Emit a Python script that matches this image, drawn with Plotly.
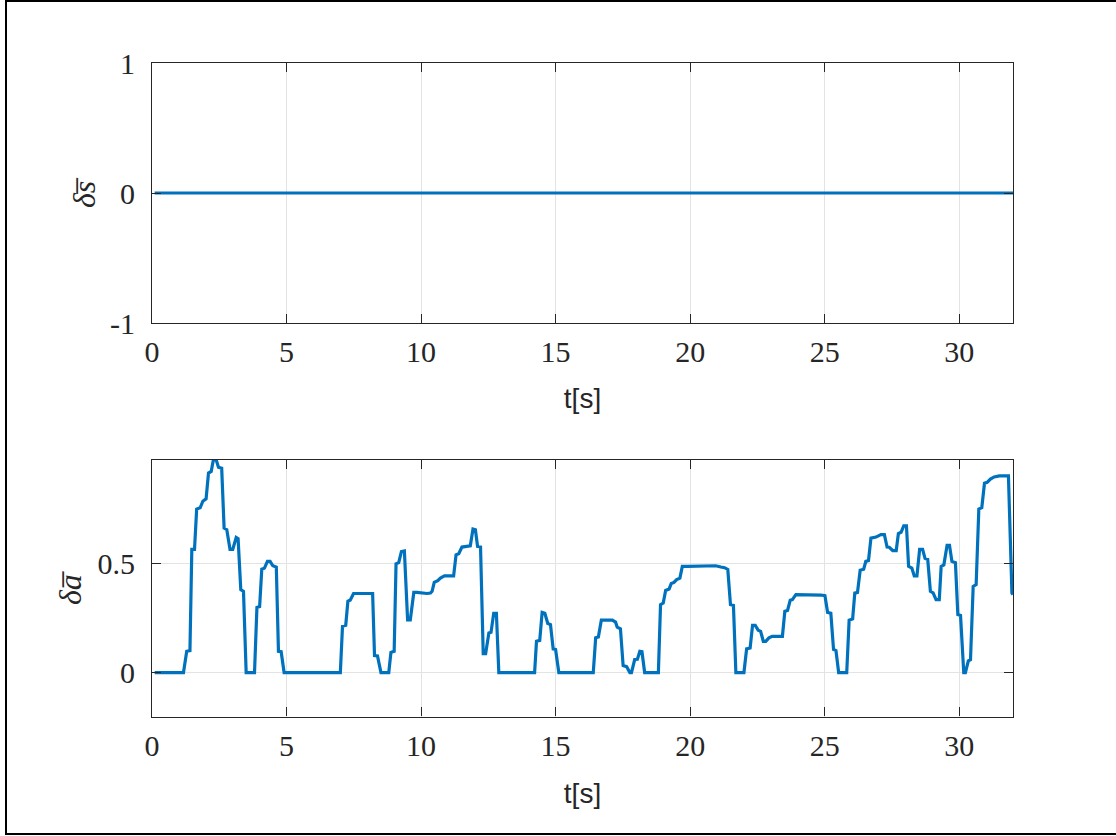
import plotly.graph_objects as go

# ---- data ----
t_top = [0.1, 32.0]
s_top = [0.0, 0.0]

t_bot = [0.1, 1.17, 1.29, 1.41, 1.48, 1.58, 1.66, 1.79, 1.89, 2.01, 2.10, 2.20, 2.28, 2.38, 2.47, 2.59,
         2.68, 2.78, 2.90, 3.00, 3.13, 3.20, 3.30, 3.40, 3.50, 3.81, 3.90, 4.00, 4.08, 4.18, 4.29, 4.39,
         4.49, 4.62, 4.70, 4.80, 4.91, 7.00, 7.08, 7.20, 7.28, 7.37, 7.49, 7.86, 7.99, 8.20, 8.27, 8.38,
         8.51, 8.80, 8.88, 9.00, 9.07, 9.17, 9.27, 9.38, 9.50, 9.60, 9.73, 9.85, 10.22, 10.35, 10.41, 10.49,
         10.62, 10.72, 10.87, 11.21, 11.30, 11.40, 11.52, 11.83, 11.93, 12.02, 12.10, 12.21, 12.31, 12.40,
         12.52, 12.60, 12.70, 12.80, 12.89, 14.22, 14.29, 14.41, 14.50, 14.60, 14.71, 14.81, 14.91, 15.00,
         15.12, 16.40, 16.49, 16.59, 16.70, 17.11, 17.23, 17.29, 17.41, 17.51, 17.64, 17.76, 17.82, 17.94,
         18.04, 18.13, 18.21, 18.31, 18.82, 18.90, 19.00, 19.09, 19.22, 19.30, 19.40, 19.50, 19.62, 19.71,
         19.90, 20.52, 20.95, 21.14, 21.28, 21.40, 21.50, 21.61, 21.70, 22.00, 22.10, 22.23, 22.32, 22.42,
         22.53, 22.62, 22.72, 22.81, 22.93, 23.05, 23.43, 23.52, 23.62, 23.72, 23.80, 23.93, 24.05, 24.86,
         25.01, 25.11, 25.23, 25.33, 25.42, 25.52, 25.82, 25.91, 26.04, 26.12, 26.22, 26.32, 26.45, 26.53,
         26.63, 26.72, 26.91, 27.09, 27.22, 27.32, 27.40, 27.53, 27.66, 27.74, 27.84, 27.94, 28.04, 28.12,
         28.24, 28.33, 28.43, 28.53, 28.64, 28.73, 28.83, 28.93, 29.03, 29.14, 29.26, 29.33, 29.43, 29.55,
         29.64, 29.73, 29.86, 29.95, 30.05, 30.17, 30.23, 30.34, 30.42, 30.52, 30.63, 30.73, 30.84, 30.94,
         31.04, 31.16, 31.30, 31.49, 31.83, 31.96, 32.0]
a_bot = [0, 0, 0.098, 0.101, 0.567, 0.567, 0.753, 0.759, 0.789, 0.80, 0.919, 0.926, 0.979, 0.982, 0.946, 0.941,
         0.665, 0.658, 0.567, 0.567, 0.622, 0.617, 0.382, 0.374, 0, 0, 0.30, 0.304, 0.476, 0.481, 0.512, 0.512,
         0.492, 0.486, 0.098, 0.096, 0, 0, 0.213, 0.218, 0.328, 0.334, 0.364, 0.364, 0.367, 0.364, 0.078, 0.076,
         0, 0, 0.093, 0.098, 0.501, 0.506, 0.557, 0.56, 0.243, 0.243, 0.369, 0.369, 0.364, 0.366, 0.374, 0.415,
         0.423, 0.435, 0.445, 0.445, 0.542, 0.547, 0.578, 0.584, 0.661, 0.658, 0.581, 0.578, 0.087, 0.087,
         0.182, 0.185, 0.273, 0.273, 0, 0, 0.144, 0.148, 0.277, 0.273, 0.226, 0.221, 0.109, 0.106,
         0, 0, 0.16, 0.164, 0.241, 0.241, 0.232, 0.209, 0.202, 0.032, 0.027, 0, 0, 0.06,
         0.061, 0.098, 0.096, 0, 0, 0.313, 0.32, 0.378, 0.385, 0.41, 0.415, 0.428, 0.435, 0.489,
         0.489, 0.492, 0.492, 0.486, 0.483, 0.475, 0.313, 0.309, 0, 0, 0.109, 0.113, 0.217, 0.217,
         0.195, 0.19, 0.144, 0.144, 0.16, 0.167, 0.167, 0.282, 0.286, 0.333, 0.336, 0.359, 0.359, 0.357,
         0.354, 0.277, 0.273, 0.106, 0.101, 0, 0, 0.241, 0.247, 0.366, 0.369, 0.471, 0.476, 0.512,
         0.516, 0.619, 0.624, 0.635, 0.635, 0.578, 0.577, 0.562, 0.562, 0.64, 0.646, 0.676, 0.676, 0.489,
         0.481, 0.445, 0.445, 0.567, 0.567, 0.526, 0.521, 0.374, 0.367, 0.336, 0.336, 0.489, 0.496, 0.586,
         0.586, 0.512, 0.506, 0.267, 0.263, 0, 0, 0.054, 0.059, 0.397, 0.405, 0.753, 0.759, 0.872,
         0.876, 0.891, 0.901, 0.906, 0.906, 0.366, 0.36]

x_tickvals = [0, 5, 10, 15, 20, 25, 30]
x_ticktext = ["0", "5", "10", "15", "20", "25", "30"]
top_y_tickvals = [-1, 0, 1]
top_y_ticktext = ["-1", "0", "1"]
bot_y_tickvals = [0, 0.5]
bot_y_ticktext = ["0", "0.5"]

W, H = 1116, 836
LINE = "#0072BD"
AX = "#262626"
GRID = "#e3e3e3"
SERIF = "Liberation Serif"
SANS = "Liberation Sans"

fig = go.Figure()
fig.add_trace(go.Scatter(x=t_top, y=s_top, mode="lines", line=dict(color=LINE, width=3.2),
                         xaxis="x", yaxis="y", showlegend=False, hoverinfo="skip"))
fig.add_trace(go.Scatter(x=t_bot, y=a_bot, mode="lines", line=dict(color=LINE, width=3.2),
                         xaxis="x2", yaxis="y2", showlegend=False, hoverinfo="skip"))

xdom = [152 / W, 1013 / W]
top_dom = [1 - 323 / H, 1 - 63 / H]
bot_dom = [1 - 716.5 / H, 1 - 460 / H]

common = dict(showline=True, linecolor=AX, linewidth=1.2, mirror="allticks", ticks="inside",
              ticklen=9, tickcolor=AX, tickwidth=1.2, showgrid=True, gridcolor=GRID, gridwidth=1,
              zeroline=False, automargin=False, tickfont=dict(family=SERIF, size=30, color=AX))

fig.update_layout(
    template="none",
    width=W, height=H, margin=dict(l=0, r=0, t=0, b=0, pad=0),
    paper_bgcolor="white", plot_bgcolor="white",
    xaxis=dict(domain=xdom, range=[0, 32], tickvals=x_tickvals, ticktext=x_ticktext, anchor="y",
               ticklabelstandoff=2,
               title=dict(text="t[s]", font=dict(family=SANS, size=28, color=AX), standoff=21), **common),
    yaxis=dict(domain=top_dom, range=[-1, 1], tickvals=top_y_tickvals, ticktext=top_y_ticktext, anchor="x",
               ticklabelstandoff=10, **common),
    xaxis2=dict(domain=xdom, range=[0, 32], tickvals=x_tickvals, ticktext=x_ticktext, anchor="y2",
                ticklabelstandoff=2,
                title=dict(text="t[s]", font=dict(family=SANS, size=28, color=AX), standoff=22), **common),
    yaxis2=dict(domain=bot_dom, range=[-0.2025, 0.979], tickvals=bot_y_tickvals, ticktext=bot_y_ticktext,
                anchor="x2", ticklabelstandoff=10, **common),
    annotations=[
        dict(text="<i>δs\u0305</i>", x=84 / W, y=1 - 193 / H, xref="paper", yref="paper", textangle=-90,
             showarrow=False, xanchor="center", yanchor="middle",
             font=dict(family=SERIF, size=32, color=AX)),
        dict(text="<i>δa\u0305</i>", x=70 / W, y=1 - 588 / H, xref="paper", yref="paper", textangle=-90,
             showarrow=False, xanchor="center", yanchor="middle",
             font=dict(family=SERIF, size=32, color=AX)),
    ],
    shapes=[dict(type="rect", xref="paper", yref="paper", x0=6 / W, x1=1.01, y0=1 - 834 / H, y1=1 - 1 / H,
                 line=dict(color="black", width=2), fillcolor="rgba(0,0,0,0)", layer="above")],
)

fig.write_html("out.html", config={"displayModeBar": False},
               post_script="document.body.style.margin='0';document.body.style.overflow='hidden';")
